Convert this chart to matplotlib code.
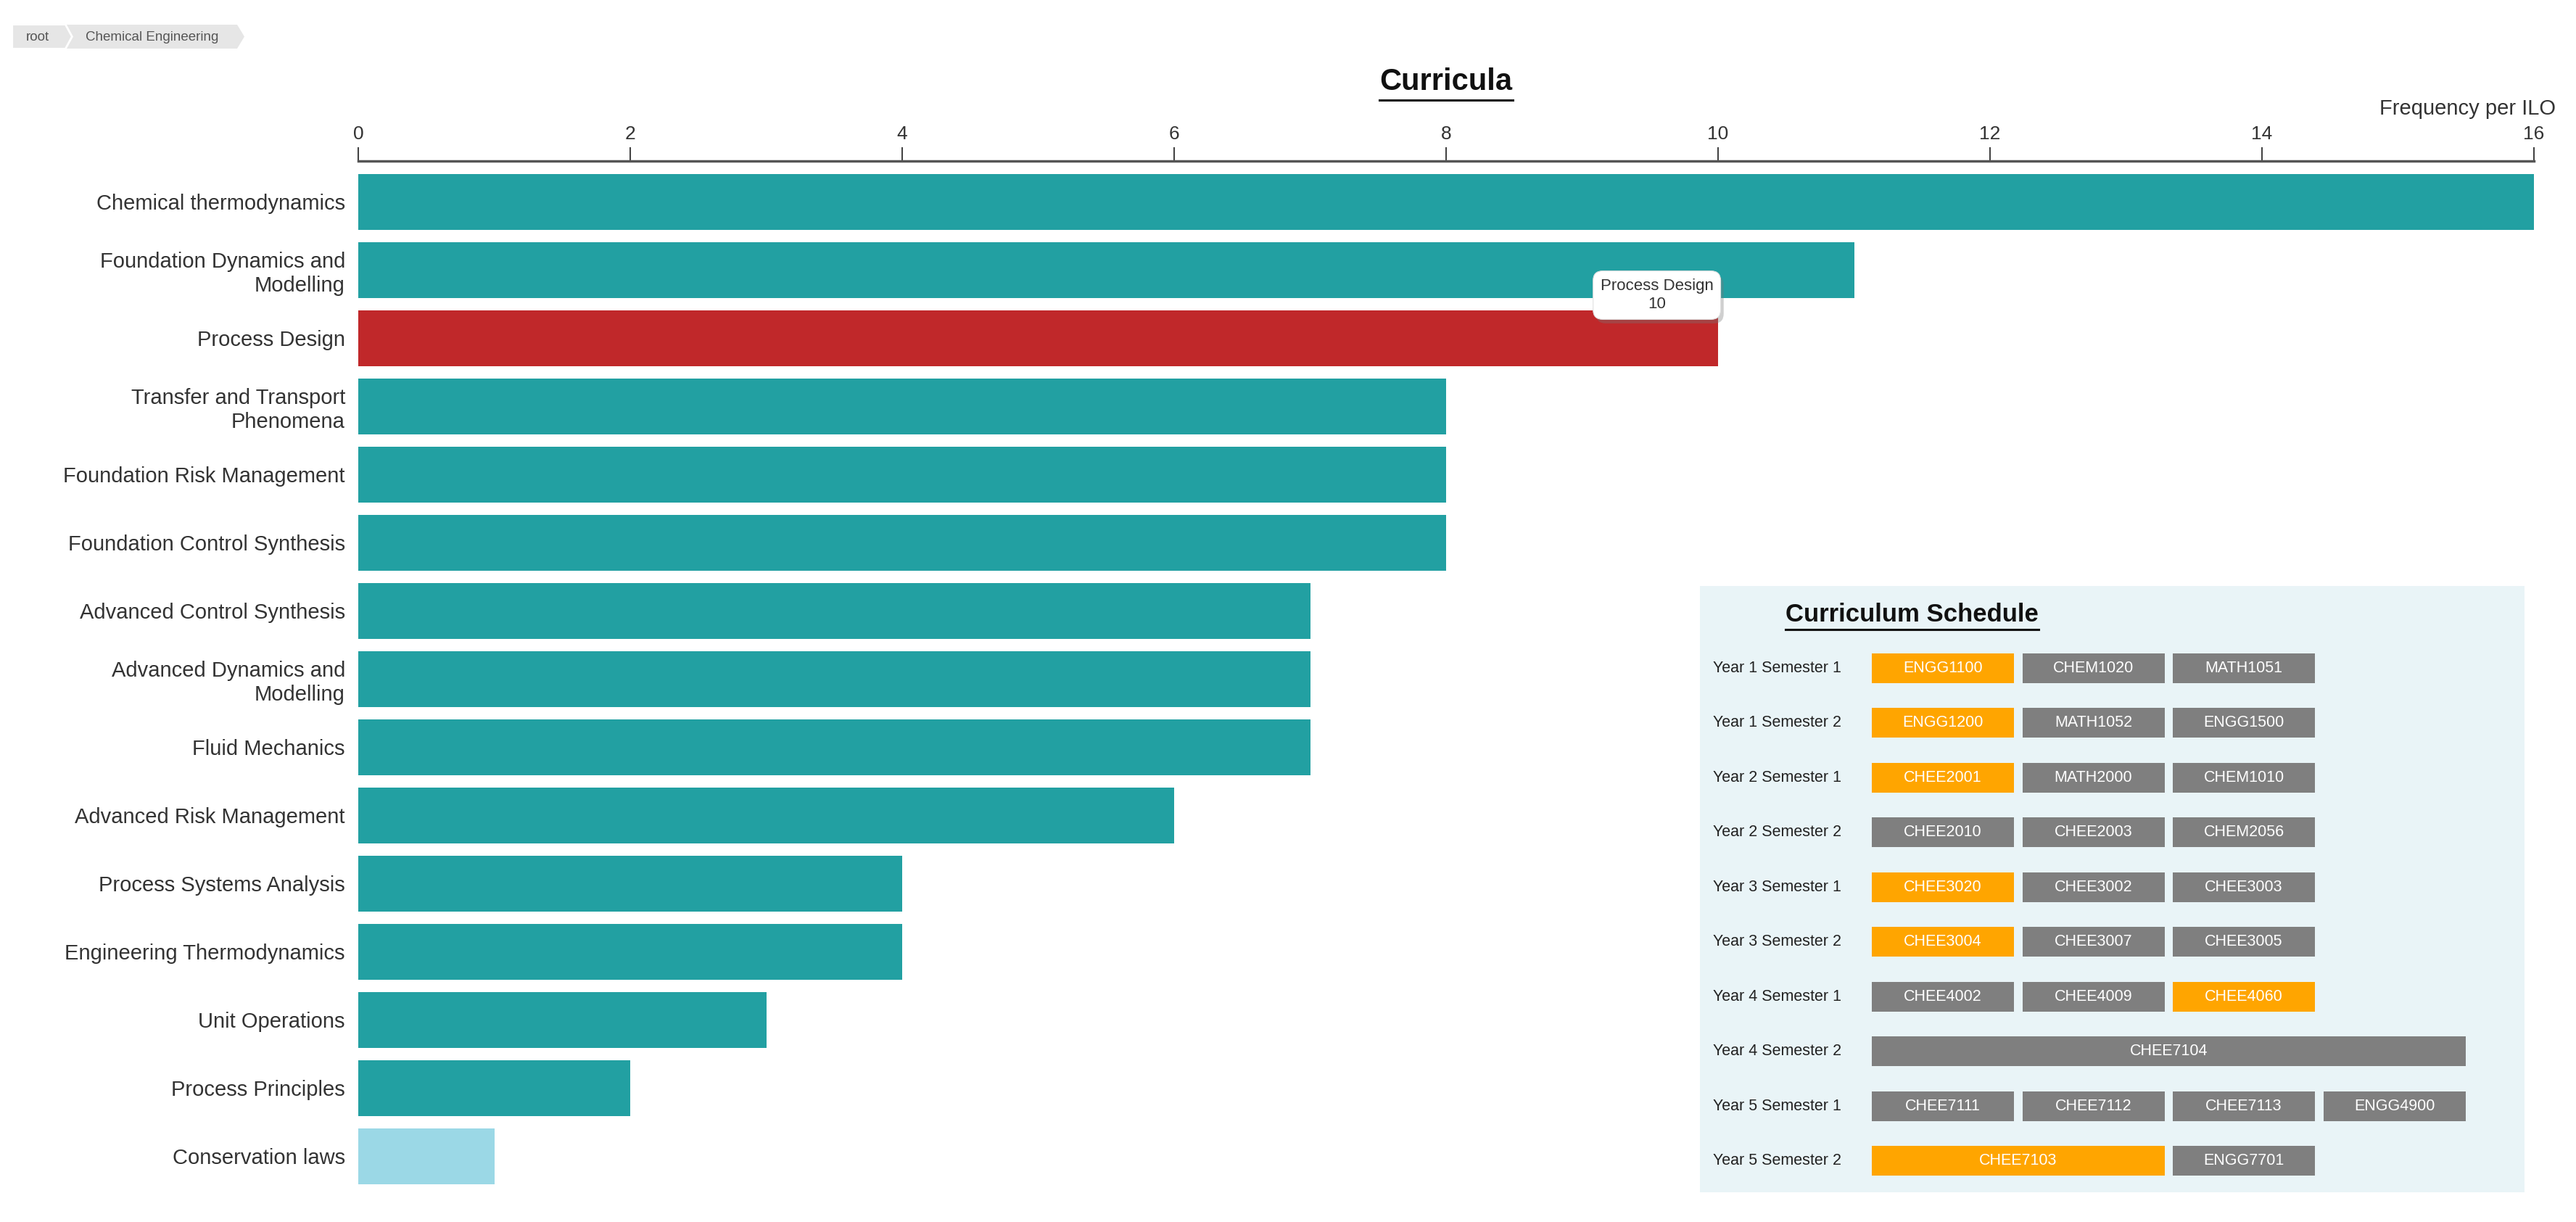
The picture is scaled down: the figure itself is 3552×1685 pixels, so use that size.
import matplotlib
matplotlib.use('Agg')
import matplotlib.pyplot as plt
import matplotlib.patheffects as pe
from matplotlib.patches import Polygon
from matplotlib.lines import Line2D

plt.rcParams['font.family'] = ['Liberation Sans', 'DejaVu Sans']

# chart data
topics = ['Chemical thermodynamics', 'Foundation Dynamics and\nModelling', 'Process Design',
          'Transfer and Transport\nPhenomena', 'Foundation Risk Management',
          'Foundation Control Synthesis', 'Advanced Control Synthesis',
          'Advanced Dynamics and\nModelling', 'Fluid Mechanics', 'Advanced Risk Management',
          'Process Systems Analysis', 'Engineering Thermodynamics', 'Unit Operations',
          'Process Principles', 'Conservation laws']
ilo_freq = [16, 11, 10, 8, 8, 8, 7, 7, 7, 6, 4, 4, 3, 2, 1]
selected_topic = 'Process Design'
x_ticks = [0, 2, 4, 6, 8, 10, 12, 14, 16]

# schedule data
semesters = ['Year 1 Semester 1', 'Year 1 Semester 2', 'Year 2 Semester 1', 'Year 2 Semester 2',
             'Year 3 Semester 1', 'Year 3 Semester 2', 'Year 4 Semester 1', 'Year 4 Semester 2',
             'Year 5 Semester 1', 'Year 5 Semester 2']
courses = [['ENGG1100', 'CHEM1020', 'MATH1051'],
           ['ENGG1200', 'MATH1052', 'ENGG1500'],
           ['CHEE2001', 'MATH2000', 'CHEM1010'],
           ['CHEE2010', 'CHEE2003', 'CHEM2056'],
           ['CHEE3020', 'CHEE3002', 'CHEE3003'],
           ['CHEE3004', 'CHEE3007', 'CHEE3005'],
           ['CHEE4002', 'CHEE4009', 'CHEE4060'],
           ['CHEE7104'],
           ['CHEE7111', 'CHEE7112', 'CHEE7113', 'ENGG4900'],
           ['CHEE7103', 'ENGG7701']]
course_spans = [[1, 1, 1], [1, 1, 1], [1, 1, 1], [1, 1, 1], [1, 1, 1],
                [1, 1, 1], [1, 1, 1], [4], [1, 1, 1, 1], [2, 1]]
highlighted = ['ENGG1100', 'ENGG1200', 'CHEE2001', 'CHEE3020', 'CHEE3004', 'CHEE4060', 'CHEE7103']

TEAL = '#22a0a2'
RED = '#c0282a'
LIGHT = '#9bd8e6'
ORANGE = '#ffa500'
GREY = '#7f7f7f'
TEXT = '#333333'

W, H = 3552, 1685
fig = plt.figure(figsize=(W / 100, H / 100), dpi=100)


def fx(x):
    return x / W


def fy(y):
    return 1 - y / H


# main bar chart
ax = fig.add_axes([fx(494), fy(1641.5), 3000 / W, (1641.5 - 222) / H])
colors = []
for i, t in enumerate(topics):
    if t == selected_topic:
        colors.append(RED)
    elif i == len(topics) - 1:
        colors.append(LIGHT)
    else:
        colors.append(TEAL)
ypos = list(range(len(topics)))
ax.barh(ypos, ilo_freq, height=0.82, color=colors)
ax.set_xlim(0, 16)
ax.set_ylim(14.5, -0.601)
ax.xaxis.tick_top()
ax.set_xticks(x_ticks)
ax.tick_params(axis='x', length=14, width=1.5, color='#444', pad=4, labelsize=19, labelcolor=TEXT)
ax.set_yticks(ypos, topics)
ax.tick_params(axis='y', length=0, pad=13, labelsize=21, labelcolor=TEXT)
for lab in ax.get_yticklabels():
    lab.set_multialignment('right')
for s in ['right', 'bottom', 'left']:
    ax.spines[s].set_visible(False)
ax.spines['top'].set_linewidth(2.5)
ax.spines['top'].set_color('#555555')

# tooltip
sel = topics.index(selected_topic)
tip = ax.text(9.55, sel - 0.633, f'{selected_topic}\n{ilo_freq[sel]}', ha='center', va='center',
              fontsize=16, color=TEXT, linespacing=1.3, zorder=6,
              bbox=dict(boxstyle='round,pad=0.45,rounding_size=0.6', fc='white', ec='#e0e0e0', lw=0.8))
tip.get_bbox_patch().set_path_effects([pe.SimplePatchShadow(offset=(3, -4), shadow_rgbFace='#777777', alpha=0.35),
                                       pe.Normal()])

fig.text(fx(3524), fy(150), 'Frequency per ILO', ha='right', va='center', fontsize=21, color=TEXT)
title = fig.text(fx(1994), fy(113), 'Curricula', ha='center', va='center', fontsize=30,
                 fontweight='bold', color='#111111')

# breadcrumb
crumb_bg = '#e6e6e6'
fig.patches.append(Polygon([(fx(92), fy(34)), (fx(327), fy(34)), (fx(337), fy(50.5)), (fx(327), fy(67)),
                            (fx(92), fy(67)), (fx(101), fy(50.5))], closed=True, transform=fig.transFigure,
                           fc=crumb_bg, ec='none'))
fig.patches.append(Polygon([(fx(17), fy(34)), (fx(90), fy(34)), (fx(99), fy(50.5)), (fx(90), fy(67)),
                            (fx(17), fy(67))], closed=True, transform=fig.transFigure,
                           fc=crumb_bg, ec='white', lw=1.5))
fig.text(fx(36), fy(51), 'root', ha='left', va='center', fontsize=13.5, color='#555555')
fig.text(fx(118), fy(51), 'Chemical Engineering', ha='left', va='center', fontsize=13.5, color='#555555')

# curriculum schedule panel
ax2 = fig.add_axes([fx(2344), fy(1644), (3481 - 2344) / W, (1644 - 808) / H])
ax2.set_zorder(4)
ax2.set_facecolor('#e9f4f7')
ax2.set_xlim(-1.142, 4.337)
ax2.set_ylim(9.576, -1.497)
ax2.set_xticks([])
ax2.set_yticks([])
for s in ax2.spines.values():
    s.set_visible(False)

gap = 0.055
for i, sem in enumerate(semesters):
    ax2.text(-1.055, i, sem, ha='left', va='center', fontsize=15.5, color='#222222')
    start = 0
    for code, span in zip(courses[i], course_spans[i]):
        c = ORANGE if code in highlighted else GREY
        ax2.barh(i, span - gap, left=start, height=0.543, align='center', color=c)
        ax2.text(start + (span - gap) / 2, i, code, ha='center', va='center', fontsize=15.5, color='white')
        start += span

sched_title = ax2.text(-0.573, -0.98, 'Curriculum Schedule', ha='left', va='center', fontsize=25,
                       fontweight='bold', color='#111111')

# underline titles
fig.canvas.draw()
for t, off in [(title, 5), (sched_title, 4)]:
    bb = t.get_window_extent()
    fig.add_artist(Line2D([bb.x0 / W, bb.x1 / W], [(bb.y0 - off) / H, (bb.y0 - off) / H],
                          transform=fig.transFigure, color='#111111', lw=2.2, zorder=10))

fig.savefig('out.png', dpi=100)
